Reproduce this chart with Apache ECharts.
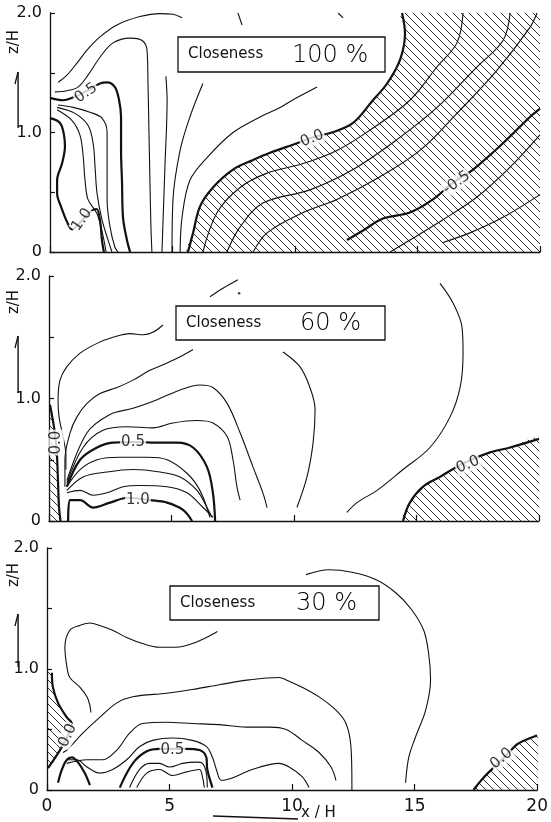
<!DOCTYPE html>
<html><head><meta charset="utf-8">
<script src="https://cdn.jsdelivr.net/npm/echarts/dist/echarts.min.js"></script>
<style>html,body{margin:0;padding:0;background:#fff}#c{width:551px;height:822px}</style>
</head><body><div id="c"></div>
<script>
// ---------- axis / tick data ----------
var xTicks = [0, 5, 10, 15, 20];
var yTickLabels = {0: '0', 1: '1.0', 2: '2.0'};
var closeness = ['100 %', '60 %', '30 %'];

// ---------- Panel 1 : Closeness 100 % ----------
var p1_c1 = [[0.33,1.42],[0.69,1.48],[1.1,1.58],[1.51,1.69],[2.04,1.8],[2.73,1.9],[3.67,1.97],[4.49,1.995],[5.02,1.99],[5.39,1.96]];
var p1_c2 = [[0.2,1.34],[0.69,1.35],[1.14,1.38],[1.55,1.48],[2.04,1.63],[2.57,1.75],[3.27,1.79],[3.76,1.77],[3.96,1.69],[4.0,1.41],[4.04,1.0],[4.08,0.58],[4.12,0.21],[4.16,0]];
var p1_c05 = [[0,1.29],[0.53,1.27],[0.9,1.29],[1.43,1.34],[2.04,1.41],[2.33,1.42],[2.65,1.38],[2.82,1.27],[2.9,1.13],[2.9,0.85],[2.94,0.58],[2.98,0.29],[3.14,0.1],[3.27,0]];
var p1_c4 = [[0.33,1.23],[0.94,1.21],[1.63,1.17],[2.12,1.12],[2.33,1.0],[2.33,0.71],[2.33,0.44],[2.45,0.21],[2.65,0.04],[2.78,0]];
var p1_c5 = [[0.29,1.21],[1.02,1.16],[1.55,1.06],[1.76,0.91],[1.84,0.71],[1.92,0.49],[2.12,0.27],[2.37,0.1],[2.53,0]];
var p1_c6 = [[0.29,1.19],[0.9,1.1],[1.22,0.98],[1.35,0.81],[1.43,0.6],[1.55,0.44],[1.92,0.32],[2.16,0.14],[2.29,0]];
var p1_c10 = [[0,1.12],[0.41,1.08],[0.57,0.98],[0.61,0.88],[0.49,0.74],[0.29,0.6],[0.29,0.49],[0.45,0.38],[0.7,0.25],[0.9,0.19],[1.2,0.24],[1.6,0.33],[1.9,0.36],[2.05,0.25],[2.12,0.1],[2.2,0]];
var p1_c8 = [[4.57,0],[4.69,0.71],[4.78,1.27],[4.73,1.47]];
var p1_c9 = [[4.98,0],[5.02,0.44],[5.31,0.85],[5.71,1.13],[6.24,1.41]];
var p1_c11 = [[5.31,0],[5.39,0.29],[5.71,0.6],[6.41,0.79],[7.47,1.0],[8.57,1.13],[9.39,1.21],[9.8,1.26],[10.9,1.38]];
var p1_c00 = [[5.63,0],[5.84,0.16],[6.12,0.38],[6.65,0.54],[7.47,0.69],[8.29,0.77],[8.98,0.83],[10.08,0.91],[10.73,0.96],[11.51,1.0],[12.37,1.08],[13.18,1.27],[13.76,1.41],[14.29,1.61],[14.49,1.83],[14.37,2.0]];
var p1_n1 = [[6.24,0],[6.82,0.33],[7.76,0.54],[8.86,0.66],[10.33,0.74],[11.71,0.85],[13.06,1.02],[14.69,1.27],[15.8,1.55],[16.61,1.75],[16.86,2.0]];
var p1_n2 = [[7.22,0],[7.76,0.21],[8.69,0.41],[10.61,0.52],[12.37,0.69],[14.16,0.94],[15.8,1.21],[17.43,1.55],[18.49,1.77],[18.78,2.0]];
var p1_n3 = [[8.29,0],[8.86,0.16],[10.33,0.33],[11.71,0.44],[13.47,0.63],[15.1,0.85],[16.61,1.16],[18.24,1.52],[19.59,1.88],[19.88,2.0]];
var p1_n05 = [[12.12,0.1],[12.78,0.18],[13.59,0.28],[14.69,0.33],[15.63,0.44],[16.45,0.58],[17.27,0.69],[18.49,0.91],[19.59,1.13],[20,1.2]];
var p1_n5 = [[13.88,0],[14.69,0.1],[16.04,0.27],[17.43,0.46],[18.78,0.71],[20,0.98]];
var p1_n6 = [[16.04,0.08],[17.14,0.16],[18.49,0.29],[20,0.48]];
var p1_f1 = [[7.67,2.0],[7.84,1.9]];
var p1_f2 = [[11.76,2.0],[11.96,1.96]];
var p1_labels = [[1.47,1.33,'0.5',35],[1.3,0.27,'1.0',55],[10.7,0.95,'0.0',22],[16.6,0.58,'-0.5',35]];

// ---------- Panel 2 : Closeness 60 % ----------
var p2_top = [[6.57,1.83],[7.1,1.9],[7.71,1.97]];
var p2_dot = [[7.76,1.86]];
var p2_a = [[4.65,1.6],[4.24,1.54],[3.84,1.52],[3.31,1.53],[2.61,1.5],[1.96,1.45],[1.27,1.37],[0.73,1.26],[0.45,1.15],[0.37,0.99],[0.41,0.85],[0.57,0.69],[0.69,0.54],[0.69,0.42]];
var p2_b = [[5.88,1.4],[5.35,1.34],[4.82,1.29],[4.12,1.23],[3.43,1.15],[2.78,1.09],[2.08,1.04],[1.55,0.96],[1.14,0.85],[0.86,0.72],[0.65,0.5],[0.65,0.28]];
var p2_a1 = [[0.73,0.33],[1.55,0.72],[2.49,0.87],[3.43,0.92],[4.41,0.99],[5.35,1.07],[6.16,1.11],[6.69,1.09],[7.27,0.96],[7.8,0.72],[8.33,0.44],[8.73,0.23],[8.9,0.11]];
var p2_a2 = [[0.73,0.31],[1.39,0.6],[2.2,0.74],[3.18,0.77],[4.24,0.76],[5.06,0.8],[6.04,0.82],[6.69,0.8],[7.27,0.69],[7.51,0.5],[7.67,0.28],[7.8,0.17]];
var p2_c05 = [[0.73,0.28],[1.27,0.5],[1.96,0.6],[2.61,0.64],[3.5,0.645],[4.53,0.64],[5.22,0.64],[5.88,0.6],[6.45,0.44],[6.69,0.23],[6.78,0]];
var p2_a4 = [[0.73,0.28],[1.27,0.42],[1.96,0.5],[2.9,0.52],[4.0,0.52],[4.82,0.5],[5.63,0.39],[6.16,0.25],[6.57,0.03]];
var p2_a5 = [[0.73,0.25],[1.39,0.36],[2.37,0.4],[3.43,0.42],[4.53,0.4],[5.35,0.36],[6.04,0.25],[6.45,0.11],[6.65,0.03]];
var p2_a6 = [[0.73,0.23],[1.27,0.25],[1.8,0.21],[2.37,0.23],[3.02,0.28],[3.71,0.29],[4.82,0.28],[5.63,0.23],[6.29,0.11],[6.69,0.03]];
var p2_c10 = [[0.78,0],[0.86,0.17],[1.27,0.17],[1.8,0.11],[2.49,0.15],[3.22,0.19],[4.12,0.17],[4.82,0.15],[5.47,0.09],[5.84,0]];
var p2_c = [[9.55,1.38],[10.24,1.26],[10.65,1.09],[10.86,0.91],[10.78,0.64],[10.53,0.36],[10.12,0.11]];
var p2_d = [[15.96,1.94],[16.49,1.78],[16.86,1.58],[16.9,1.37],[16.78,1.09],[16.37,0.85],[15.55,0.6],[14.45,0.42],[13.39,0.25],[12.57,0.15],[12.16,0.07]];
var p2_c00r = [[14.45,0],[14.73,0.15],[15.27,0.28],[15.96,0.36],[16.9,0.47],[18.0,0.56],[18.82,0.6],[20,0.67]];
var p2_c00l = [[0.04,0.95],[0.16,0.82],[0.24,0.72],[0.29,0.62],[0.33,0.52],[0.37,0.31],[0.41,0.11],[0.47,0]];
var p2_labels = [[0.31,0.64,'0.0',90],[3.43,0.64,'0.5',0],[3.63,0.17,'1.0',0],[17.1,0.46,'0.0',22]];

// ---------- Panel 3 : Closeness 30 % ----------
var p3_u = [[6.95,1.31],[6.5,1.26],[5.93,1.21],[5.28,1.18],[4.59,1.18],[3.9,1.21],[3.25,1.26],[2.68,1.32],[2.15,1.36],[1.75,1.38],[1.34,1.36],[0.93,1.32],[0.73,1.18],[0.81,1.02],[0.93,0.93],[1.34,0.85],[1.63,0.77],[1.75,0.7],[1.79,0.64]];
var p3_d1 = [[0.65,0.31],[0.81,0.33],[1.46,0.47],[2.15,0.6],[2.85,0.72],[3.5,0.77],[4.88,0.8],[5.93,0.83],[7.03,0.87],[8.25,0.91],[9.47,0.93],[9.76,0.91],[10.41,0.85],[11.1,0.77],[11.79,0.66],[12.2,0.55],[12.4,0.36],[12.44,0.06],[12.44,0]];
var p3_d2 = [[0.81,0.22],[1.63,0.25],[2.28,0.25],[2.85,0.33],[3.37,0.47],[3.9,0.55],[4.88,0.56],[5.93,0.55],[7.03,0.54],[8.13,0.52],[9.07,0.52],[9.76,0.5],[10.41,0.41],[11.1,0.31],[11.59,0.19],[11.79,0.08]];
var p3_d3 = [[0.81,0.25],[1.22,0.25],[1.63,0.19],[2.15,0.14],[2.68,0.17],[3.25,0.25],[3.78,0.36],[4.31,0.41],[5.12,0.43],[5.93,0.41],[6.5,0.36],[6.75,0.27],[6.91,0.17],[7.11,0.08],[7.56,0.1],[8.37,0.17],[9.47,0.22],[9.88,0.19],[10.41,0.11],[10.69,0.02]];
var p3_c05 = [[2.97,0.02],[3.5,0.22],[4.07,0.32],[4.59,0.34],[5.15,0.34],[5.69,0.34],[6.22,0.33],[6.5,0.27],[6.54,0.17],[6.75,0.02]];
var p3_d5 = [[3.37,0.02],[3.78,0.17],[4.19,0.22],[4.59,0.22],[5.0,0.19],[5.53,0.22],[6.1,0.23],[6.34,0.22],[6.5,0.14],[6.54,0.02]];
var p3_d6 = [[3.66,0.02],[4.07,0.14],[4.59,0.17],[5.12,0.12],[5.69,0.15],[6.22,0.17],[6.34,0.11],[6.42,0.02]];
var p3_bump = [[0.45,0.06],[0.61,0.17],[0.81,0.25],[1.02,0.27],[1.26,0.23],[1.54,0.14],[1.75,0.04]];
var p3_c00l = [[0.2,0.97],[0.24,0.85],[0.45,0.72],[0.81,0.6],[1.02,0.55],[0.85,0.45],[0.53,0.33],[0.04,0.18]];
var p3_arc = [[10.57,1.78],[11.5,1.82],[12.44,1.8],[13.41,1.74],[14.23,1.63],[14.88,1.49],[15.37,1.32],[15.57,1.13],[15.65,0.91],[15.45,0.66],[15.04,0.44],[14.76,0.27],[14.63,0.06]];
var p3_c00r = [[17.4,0],[17.8,0.1],[18.3,0.2],[18.8,0.3],[19.2,0.38],[20,0.45]];
var p3_labels = [[0.85,0.45,'0.0',65],[5.12,0.33,'0.5',0],[18.54,0.26,'0.0',40]];

// ---------- build ----------
var pc = document.createElement('canvas'); pc.width = 8; pc.height = 8;
var g = pc.getContext('2d'); g.strokeStyle = '#1a1a1a'; g.lineWidth = 0.9;
g.beginPath(); g.moveTo(-1,-1); g.lineTo(9,9); g.moveTo(-1,7); g.lineTo(1,9); g.moveTo(7,-1); g.lineTo(9,1); g.stroke();

var series = [];
function line(gi, data, thick) {
  series.push({type:'line', xAxisIndex:gi, yAxisIndex:gi, data:data, smooth:0.35, symbol:'none', silent:true, z:3,
    lineStyle:{color:'#111', width: thick ? 2.2 : 1.1}});
}
function hatch(gi, poly) {
  series.push({type:'custom', xAxisIndex:gi, yAxisIndex:gi, data:[[0,0]], clip:true, silent:true, z:1,
    renderItem:function(params, api){
      var pts = poly.map(function(p){ return api.coord(p); });
      return {type:'polygon', shape:{points:pts, smooth:0.3}, style:{fill:{image:pc, repeat:'repeat'}, stroke:null}};
    }});
}
function labels(gi, arr) {
  series.push({type:'scatter', xAxisIndex:gi, yAxisIndex:gi, symbolSize:1, z:6, silent:true,
    itemStyle:{color:'rgba(0,0,0,0)'},
    label:{show:true, position:'inside', color:'#000', fontSize:15, fontFamily:'DejaVu Sans', backgroundColor:'#fff', padding:[0,1]},
    data: arr.map(function(l){ return {value:[l[0], l[1]], label:{formatter:l[2], rotate:l[3]}}; })});
}

// panel 1
hatch(0, p1_c00.concat([[20,2],[20,0]]));
[p1_c1,p1_c2,p1_c4,p1_c5,p1_c6,p1_c8,p1_c9,p1_c11,p1_n1,p1_n2,p1_n3,p1_n5,p1_n6,p1_f1,p1_f2].forEach(function(d){ line(0,d,false); });
[p1_c05,p1_c10,p1_c00,p1_n05].forEach(function(d){ line(0,d,true); });
labels(0, p1_labels);
// panel 2
hatch(1, p2_c00r.concat([[20,0]]));
hatch(1, [[0,0.97]].concat(p2_c00l, [[0,0]]));
[p2_top,p2_a,p2_b,p2_a1,p2_a2,p2_a4,p2_a5,p2_a6,p2_c,p2_d].forEach(function(d){ line(1,d,false); });
[p2_c05,p2_c10,p2_c00r,p2_c00l].forEach(function(d){ line(1,d,true); });
series.push({type:'scatter', xAxisIndex:1, yAxisIndex:1, data:p2_dot, symbolSize:2.5, itemStyle:{color:'#111'}, silent:true});
labels(1, p2_labels);
// panel 3
hatch(2, [[0,0.97]].concat(p3_c00l, [[0,0.16]]));
hatch(2, p3_c00r.concat([[20,0]]));
[p3_u,p3_d1,p3_d2,p3_d3,p3_d5,p3_d6,p3_arc].forEach(function(d){ line(2,d,false); });
[p3_c05,p3_bump,p3_c00l,p3_c00r].forEach(function(d){ line(2,d,true); });
labels(2, p3_labels);

var grids = [{left:50, width:490, top:13, height:239},{left:49, width:490, top:276, height:245},{left:47, width:492, top:548, height:242}];
var axLine = {show:true, lineStyle:{color:'#111', width:1.3}};
var xAxes = grids.map(function(gr, i){
  return {gridIndex:i, type:'value', min:xTicks[0], max:xTicks[xTicks.length-1], interval:5,
    axisLine:axLine, axisTick:{show:true, inside:true, length:6, lineStyle:{color:'#111', width:1.2}},
    splitLine:{show:false},
    axisLabel:{show:i===2, color:'#111', fontSize:17, fontFamily:'DejaVu Sans', margin:8,
      formatter:function(v){ return xTicks.indexOf(v) >= 0 ? String(v) : ''; }}};
});
var yAxes = grids.map(function(gr, i){
  return {gridIndex:i, type:'value', min:0, max:2, interval:0.5,
    axisLine:axLine, axisTick:{show:true, inside:true, length:5, lineStyle:{color:'#111', width:1.2}},
    splitLine:{show:false},
    axisLabel:{color:'#111', fontSize:16, fontFamily:'DejaVu Sans', margin:8,
      formatter:function(v){ return yTickLabels[v] !== undefined ? yTickLabels[v] : ''; }}};
});

var boxes = [{x:178,y:37,w:207,h:35,tx:188,vx:292},{x:176,y:306,w:209,h:34,tx:186,vx:300},{x:170,y:586,w:209,h:34,tx:180,vx:296}];
var zh = [{ty:42, a1:128, a2:72},{ty:302, a1:393, a2:336},{ty:575, a1:667, a2:614}];
var graphics = [];
boxes.forEach(function(b, i){
  graphics.push({type:'rect', z:100, shape:{x:b.x, y:b.y, width:b.w, height:b.h}, style:{fill:'#fff', stroke:'#111', lineWidth:1.3}});
  graphics.push({type:'text', z:101, x:b.tx, y:b.y+b.h/2, style:{text:'Closeness', font:'15px "DejaVu Sans"', fill:'#111', textVerticalAlign:'middle'}});
  graphics.push({type:'text', z:101, x:b.vx, y:b.y+b.h/2+1, style:{text:closeness[i], font:'200 24px "DejaVu Sans"', fill:'#000', textVerticalAlign:'middle'}});
});
zh.forEach(function(a){
  graphics.push({type:'text', z:101, x:14, y:a.ty, rotation:Math.PI/2, style:{text:'z/H', font:'15px "DejaVu Sans"', fill:'#111', textAlign:'center', textVerticalAlign:'middle'}});
  graphics.push({type:'rect', z:101, shape:{x:17.4, y:a.a2, width:1.4, height:a.a1 - a.a2}, style:{fill:'#111', stroke:null}});
  graphics.push({type:'line', z:101, shape:{x1:18, y1:a.a2, x2:15, y2:a.a2+12}, style:{stroke:'#111', lineWidth:1.3}});
});
graphics.push({type:'text', z:101, x:301, y:813, style:{text:'x / H', font:'15px "DejaVu Sans"', fill:'#111', textVerticalAlign:'middle'}});
graphics.push({type:'line', z:101, shape:{x1:213, y1:816, x2:298, y2:819}, style:{stroke:'#111', lineWidth:1.3}});

var chart = echarts.init(document.getElementById('c'), null, {renderer:'canvas'});
chart.setOption({animation:false, backgroundColor:'#fff', grid:grids, xAxis:xAxes, yAxis:yAxes, series:series, graphic:graphics});
</script></body></html>
